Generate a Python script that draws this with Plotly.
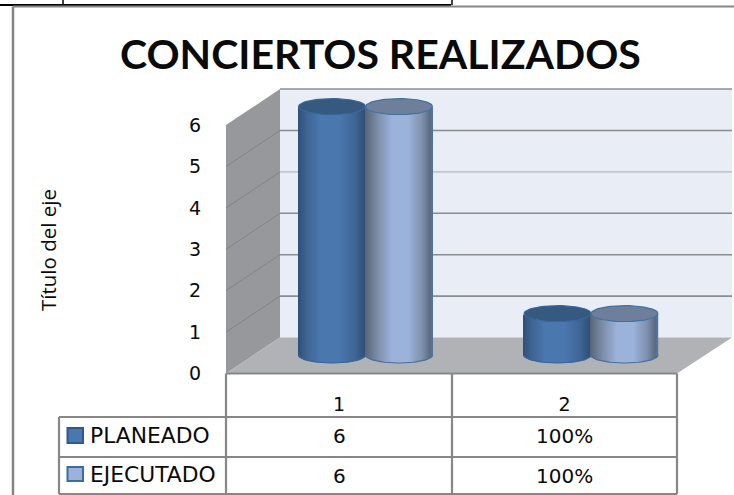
import numpy as np
import plotly.graph_objects as go

CATEGORIES = ["1", "2"]
PLANEADO = [6, 1]
EJECUTADO = [6, 1]
PLANEADO_TXT = ["6", "100%"]
EJECUTADO_TXT = ["6", "100%"]
Y_TICKS = [0, 1, 2, 3, 4, 5, 6]
TITLE = "CONCIERTOS REALIZADOS"
AXIS_TITLE = "Título del eje"

W, H = 734, 495
UNIT = 41.4          # px per value
CAT = 225.5          # px per category
MID_X1, MID_Y0 = 365.5, 355      # mid-depth plane
FRONT_X1, FRONT_Y0 = 339.0, 373.5
BACK_Y0 = 337.5
RX, RY = 33.5, 8.0

def px(x): return x / W
def py(y): return 1 - y / H

def grad(stops, t):
    ts = [s[0] for s in stops]
    c = [np.interp(t, ts, [int(s[1][i:i+2], 16) for s in stops]) for i in (1, 3, 5)]
    return "rgb(%d,%d,%d)" % tuple(c)

STOPS_P = [(-1, "#2F5078"), (-.75, "#3E6493"), (-.35, "#4A77AE"), (.25, "#4A77AE"), (.7, "#3F6696"), (1, "#2F4F76")]
STOPS_E = [(-1, "#586579"), (-.6, "#7F90AB"), (-.2, "#9BB2DB"), (.3, "#9BB2DB"), (.7, "#7F91AE"), (.95, "#5B6A82"), (1, "#4F77A8")]

x_main = lambda p: 1 + (p - MID_X1) / CAT
fig = go.Figure()

def cylinder(cat_index, value, side, stops, top_fill, outline):
    cx = MID_X1 + cat_index * CAT + side * RX
    n = int(2 * RX)
    s = (np.arange(n) + .5) / n * 2 - 1
    xs = x_main(cx + s * RX)
    base = -RY / UNIT * np.sqrt(1 - s ** 2)
    fig.add_trace(go.Bar(x=xs, y=[value] * n, base=base, width=1.4 / CAT,
                         marker=dict(color=[grad(stops, t) for t in s], line_width=0),
                         showlegend=False, hoverinfo="skip"))
    th = np.linspace(0, 2 * np.pi, 80)
    fig.add_trace(go.Scatter(x=x_main(cx + RX * np.cos(th)), y=value + RY / UNIT * np.sin(th),
                             fill="toself", fillcolor=top_fill, mode="lines",
                             line=dict(color=outline, width=1.2), showlegend=False, hoverinfo="skip"))
    th2 = np.linspace(np.pi, 2 * np.pi, 40)
    fig.add_trace(go.Scatter(x=x_main(cx + RX * np.cos(th2)), y=RY / UNIT * np.sin(th2),
                             mode="lines", line=dict(color=outline, width=1.2), showlegend=False, hoverinfo="skip"))

for i in range(len(CATEGORIES)):
    cylinder(i, PLANEADO[i], -1, STOPS_P, "#36597F", "#3A6598")
    cylinder(i, EJECUTADO[i], 1, STOPS_E, "#6E7F9B", "#44709F")

# hidden trace carries the front-plane axes (tick labels)
fig.add_trace(go.Scatter(x=[1, 2], y=[PLANEADO[0], PLANEADO[1]], xaxis="x2", yaxis="y2", mode="markers",
                         marker=dict(opacity=0), showlegend=False, hoverinfo="skip"))

shapes = []
def poly(points, fill):
    d = "M" + " L".join(f"{px(a):.5f},{py(b):.5f}" for a, b in points) + " Z"
    shapes.append(dict(type="path", path=d, xref="paper", yref="paper", fillcolor=fill,
                       line_width=0, layer="below"))
def line(x0, y0, x1, y1, color="#878787", width=2.2, layer="below"):
    shapes.append(dict(type="line", xref="paper", yref="paper", x0=px(x0), y0=py(y0), x1=px(x1), y1=py(y1),
                       line=dict(color=color, width=width), layer=layer))

top_back = BACK_Y0 - 6 * UNIT
top_front = FRONT_Y0 - 6 * UNIT
poly([(280, top_back), (732, top_back), (732, BACK_Y0), (280, BACK_Y0)], "#E9EDF6")
poly([(226, top_front), (280, top_back), (280, BACK_Y0), (226, FRONT_Y0)], "#96989B")
poly([(226, FRONT_Y0), (280, BACK_Y0), (732, BACK_Y0), (677, FRONT_Y0)], "#B0B2B5")
line(280, top_back, 732, top_back, "#8C8E92", 1.5)
GRID_COL = {5: "#8A8C90", 4: "#C4C6CC", 3: "#8A8C90", 2: "#8A8C90", 1: "#8A8C90"}
for v, c in GRID_COL.items():
    line(280, BACK_Y0 - v * UNIT, 732, BACK_Y0 - v * UNIT, c, 1.6)
    line(226, FRONT_Y0 - v * UNIT, 280, BACK_Y0 - v * UNIT, "#818386", 1)

# frame of the page around the chart
line(0, 5, 451, 5, "#000000", 2)
line(63, 0, 63, 5, "#000000", 1.5)
line(452, 0, 452, 5, "#000000", 1.5)
line(13, 6.5, 734, 6.5, "#858585", 2)
line(13, 6.5, 13, 495, "#858585", 2.5)

# data table
line(226, 373.5, 226, 494, layer="above")
line(452, 373.5, 452, 494, layer="above")
line(677, 373.5, 677, 494, layer="above")
line(226, 373.5, 677, 373.5, layer="above")
line(59, 417, 677, 417, layer="above")
line(59, 457, 677, 457, layer="above")
line(59, 494, 677, 494, layer="above")
line(59, 417, 59, 494, layer="above")

shapes.append(dict(type="rect", xref="paper", yref="paper", x0=px(67.5), x1=px(83), y0=py(428), y1=py(443),
                   fillcolor="#4A77AE", line=dict(color="#2F5A8C", width=2), layer="above"))
shapes.append(dict(type="rect", xref="paper", yref="paper", x0=px(67.5), x1=px(83), y0=py(467), y1=py(481),
                   fillcolor="#9BB2DB", line=dict(color="#3F6C9F", width=2), layer="above"))

ann = []
def text(s, x, y, size, xanchor="center", angle=0, family="DejaVu Sans", bold=False):
    ann.append(dict(text=f"<b>{s}</b>" if bold else s, x=px(x), y=py(y), xref="paper", yref="paper", showarrow=False,
                    xanchor=xanchor, yanchor="middle", textangle=angle, font=dict(size=size, family=family, color="#0a0a0a")))

text(TITLE, 381, 53, 41, family="Lato", bold=True)
text(AXIS_TITLE, 48, 250, 20.5, angle=-90, family="Open Sans")
text("PLANEADO", 88, 435, 21.8, "left")
text("EJECUTADO", 88, 474, 21.8, "left")
for i in range(len(CATEGORIES)):
    cx = FRONT_X1 + i * CAT
    text(PLANEADO_TXT[i], cx, 436, 20)
    text(EJECUTADO_TXT[i], cx, 476, 20)

fig.update_layout(
    width=W, height=H, margin=dict(l=0, r=0, t=0, b=0), autosize=False,
    paper_bgcolor="white", plot_bgcolor="rgba(0,0,0,0)", barmode="overlay", showlegend=False,
    shapes=shapes, annotations=ann,
    xaxis=dict(range=[1 - MID_X1 / CAT, 1 + (W - MID_X1) / CAT], domain=[0, 1], visible=False, fixedrange=True),
    yaxis=dict(range=[(MID_Y0 - H) / UNIT, MID_Y0 / UNIT], domain=[0, 1], visible=False, fixedrange=True),
    xaxis2=dict(overlaying="x", anchor="free", position=py(391),
                range=[1 - FRONT_X1 / CAT, 1 + (W - FRONT_X1) / CAT], domain=[0, 1],
                tickvals=[1, 2], ticktext=CATEGORIES, showgrid=False, zeroline=False, showline=False, ticks="",
                tickfont=dict(size=19, family="DejaVu Sans", color="#0a0a0a"), fixedrange=True),
    yaxis2=dict(overlaying="y", anchor="free", position=px(201),
                range=[(FRONT_Y0 - H) / UNIT, FRONT_Y0 / UNIT], domain=[0, 1],
                tickvals=Y_TICKS, showgrid=False, zeroline=False, showline=False, ticks="",
                tickfont=dict(size=19, family="DejaVu Sans", color="#0a0a0a"), fixedrange=True),
)
fig.write_html("out.html", config={"displayModeBar": False},
               post_script="document.body.style.margin='0';document.documentElement.style.overflow='hidden';")
